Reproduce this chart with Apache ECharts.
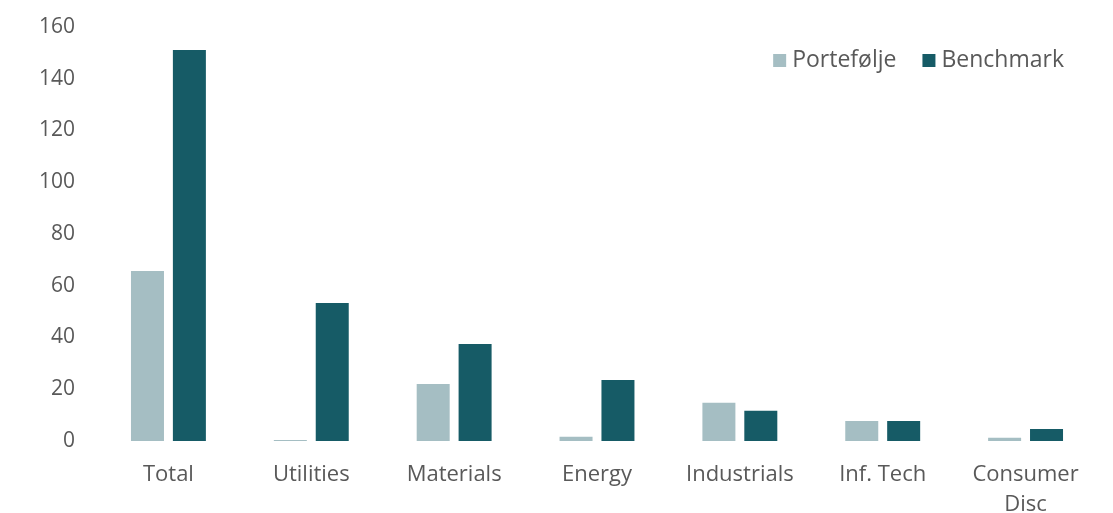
<!DOCTYPE html>
<html>
<head>
<meta charset="utf-8">
<script src="https://cdn.jsdelivr.net/npm/echarts@6/dist/echarts.min.js"></script>
<style>
html, body { margin: 0; padding: 0; background: #fff; }
#chart { width: 1113px; height: 513px; }
</style>
</head>
<body>
<div id="chart"></div>
<script>
var categories = ['Total', 'Utilities', 'Materials', 'Energy', 'Industrials', 'Inf. Tech', 'Consumer\nDisc'];
var portefolje = [65.7, 0.4, 22.0, 1.6, 14.8, 7.7, 1.3];
var benchmark = [151.1, 53.3, 37.5, 23.6, 11.7, 7.7, 4.6];

var chartDom = document.getElementById('chart');
var myChart = echarts.init(chartDom);
var option;

var textColor = '#595959';
var fontFam = '"Open Sans", "Noto Sans", sans-serif';

option = {
    animation: false,
    legend: {
        data: ['Portefølje', 'Benchmark'],
        top: 44,
        right: 44,
        itemWidth: 13,
        itemHeight: 13,
        itemGap: 26,
        icon: 'rect',
        textStyle: {
            color: textColor,
            fontSize: 23,
            fontFamily: fontFam,
            padding: [0, 0, 0, 1]
        }
    },
    grid: {
        left: 97,
        right: 16,
        top: 27,
        bottom: 72,
        outerBoundsMode: 'none',
        containLabel: false
    },
    xAxis: {
        type: 'category',
        data: categories,
        axisLine: { show: false },
        axisTick: { show: false },
        axisLabel: {
            color: textColor,
            fontSize: 22,
            fontFamily: fontFam,
            margin: 19,
            lineHeight: 30,
            interval: 0
        }
    },
    yAxis: {
        type: 'value',
        min: 0,
        max: 160,
        interval: 20,
        splitLine: { show: false },
        axisLine: { show: false },
        axisTick: { show: false },
        axisLabel: {
            color: textColor,
            fontSize: 21,
            fontFamily: fontFam,
            margin: 22
        }
    },
    series: [
        {
            name: 'Portefølje',
            type: 'bar',
            data: portefolje,
            barWidth: 33,
            barGap: '27%',
            itemStyle: { color: '#a5bec3' }
        },
        {
            name: 'Benchmark',
            type: 'bar',
            data: benchmark,
            barWidth: 33,
            itemStyle: { color: '#165b66' }
        }
    ]
};

option && myChart.setOption(option);
</script>
</body>
</html>
